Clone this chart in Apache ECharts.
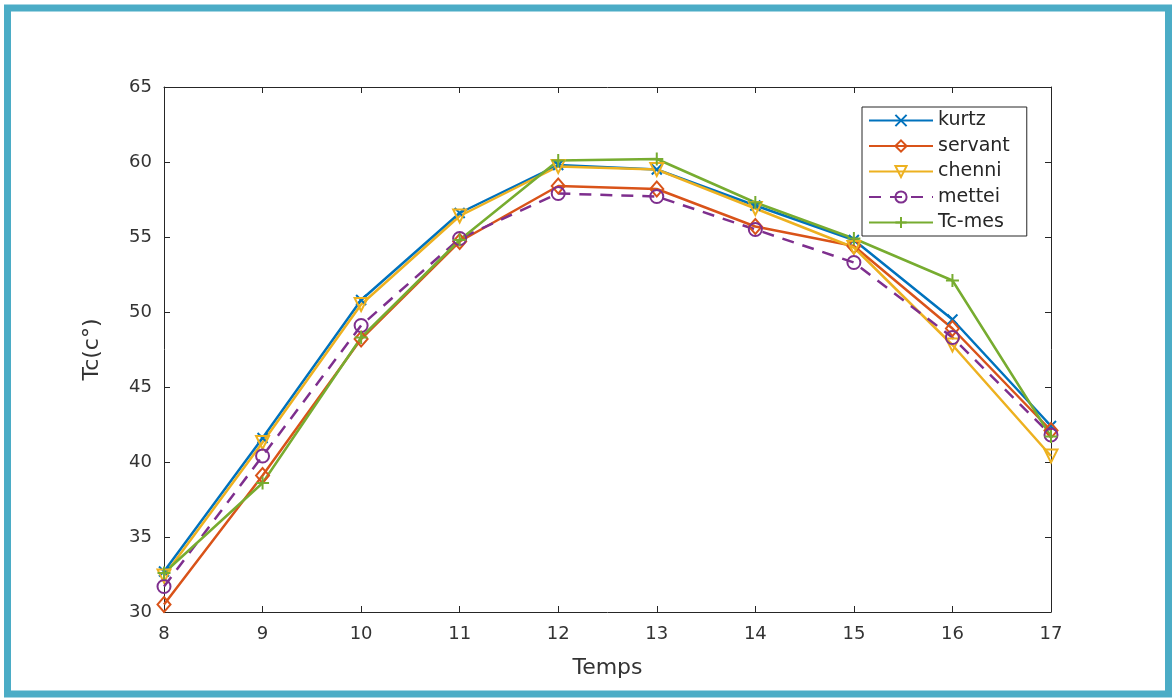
<!DOCTYPE html>
<html>
<head>
<meta charset="utf-8">
<script src="https://cdn.jsdelivr.net/npm/echarts@6/dist/echarts.min.js"></script>
<style>
html,body{margin:0;padding:0;background:#fff;}
#chart{width:1174px;height:700px;}
</style>
</head>
<body>
<div id="chart"></div>
<script>
const hours = [8, 9, 10, 11, 12, 13, 14, 15, 16, 17];
const kurtz   = [32.7, 41.6, 50.8, 56.6, 59.8, 59.5, 57.1, 54.8, 49.5, 42.4];
const servant = [30.5, 39.1, 48.2, 54.7, 58.4, 58.2, 55.7, 54.4, 48.9, 42.1];
const chenni  = [32.4, 41.3, 50.5, 56.4, 59.7, 59.5, 56.9, 54.3, 47.8, 40.4];
const mettei  = [31.7, 40.4, 49.1, 54.9, 57.9, 57.7, 55.5, 53.3, 48.3, 41.8];
const tcmes   = [32.6, 38.6, 48.3, 54.8, 60.1, 60.2, 57.3, 54.9, 52.1, 41.7];
const yTicks = [30, 35, 40, 45, 50, 55, 60, 65];

const pair = arr => hours.map((h, i) => [h, arr[i]]);
const font = 'DejaVu Sans, Arial, Helvetica, sans-serif';
const ink = '#262626';
const lbl = '#333333';

function mk(name, data, color, symbol, opts) {
  return Object.assign({
    name: name,
    type: 'line',
    data: pair(data),
    symbol: symbol,
    symbolSize: 12,
    showAllSymbol: true,
    lineStyle: { color: color, width: 2.5 },
    itemStyle: { color: 'rgba(255,255,255,0)', borderColor: color, borderWidth: 2 },
    emphasis: { disabled: true },
    animation: false,
    z: 3
  }, opts || {});
}

const xPath = 'path://M0,0L10,10M10,0L0,10';
const plusPath = 'path://M5,0L5,10M0,5L10,5';

const chart = echarts.init(document.getElementById('chart'));
chart.setOption({
  backgroundColor: '#fff',
  animation: false,
  textStyle: { fontFamily: font },
  graphic: [{
    type: 'rect',
    shape: { x: 7.5, y: 8, width: 1161, height: 686 },
    style: { fill: 'none', stroke: '#4BACC6', lineWidth: 7 },
    silent: true, z: -10
  }],
  grid: { left: 164, right: 123, top: 87, bottom: 88 },
  legend: {
    left: 862, top: 107,
    orient: 'vertical',
    backgroundColor: '#fff',
    borderColor: '#262626', borderWidth: 1,
    padding: [4, 17, 4, 6],
    itemWidth: 64, itemHeight: 14, itemGap: 6.5,
    textStyle: { fontSize: 19, color: ink, fontFamily: font },
    data: ['kurtz', 'servant', 'chenni', 'mettei', 'Tc-mes']
  },
  xAxis: [{
    type: 'value', min: 8, max: 17, interval: 1,
    name: 'Temps', nameLocation: 'middle', nameGap: 45,
    nameTextStyle: { fontSize: 22, color: lbl },
    axisLine: { lineStyle: { color: ink, width: 1 } },
    axisTick: { inside: true, length: 6, lineStyle: { color: ink } },
    axisLabel: { fontSize: 18, color: lbl, margin: 13 },
    splitLine: { show: false }
  }, {
    type: 'value', min: 8, max: 17, interval: 1, position: 'top',
    axisLine: { lineStyle: { color: ink, width: 1 } },
    axisTick: { inside: true, length: 6, lineStyle: { color: ink } },
    axisLabel: { show: false },
    splitLine: { show: false }
  }],
  yAxis: [{
    type: 'value', min: 30, max: 65, interval: 5,
    name: 'Tc(c°)', nameLocation: 'middle', nameGap: 61,
    nameTextStyle: { fontSize: 22, color: lbl },
    axisLine: { show: true, lineStyle: { color: ink, width: 1 } },
    axisTick: { show: true, inside: true, length: 6, lineStyle: { color: ink } },
    axisLabel: { fontSize: 18, color: lbl, margin: 12 },
    splitLine: { show: false }
  }, {
    type: 'value', min: 30, max: 65, interval: 5, position: 'right',
    axisLine: { show: true, lineStyle: { color: ink, width: 1 } },
    axisTick: { show: true, inside: true, length: 6, lineStyle: { color: ink } },
    axisLabel: { show: false },
    splitLine: { show: false }
  }],
  series: [
    mk('kurtz', kurtz, '#0072BD', xPath, { symbolSize: 10 }),
    mk('servant', servant, '#D95319', 'diamond', { symbolSize: [13, 15] }),
    mk('chenni', chenni, '#EDB120', 'triangle', { symbolRotate: 180, symbolSize: 13 }),
    mk('mettei', mettei, '#7E2F8E', 'circle', { symbolSize: 13, lineStyle: { color: '#7E2F8E', width: 2.5, type: [12, 9] } }),
    mk('Tc-mes', tcmes, '#77AC30', plusPath, { symbolSize: 13 })
  ]
});
</script>
</body>
</html>
